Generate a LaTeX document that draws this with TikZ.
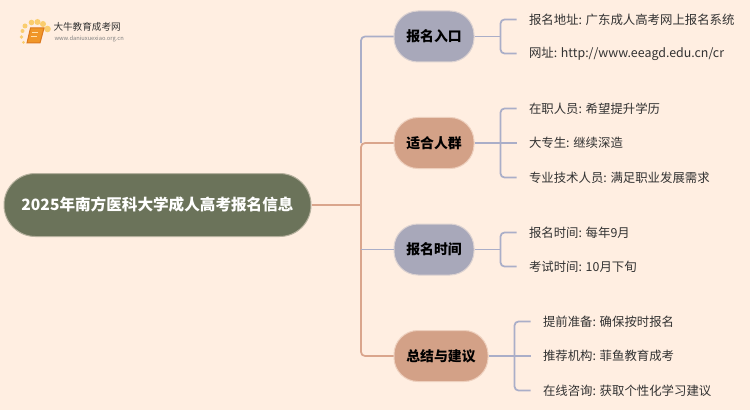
\documentclass[tikz,border=0pt]{standalone}
\usepackage{fontspec}
\setmainfont{Noto Sans CJK SC}
\definecolor{paper}{RGB}{255,238,225}
\definecolor{rootgreen}{RGB}{107,115,90}
\definecolor{slate}{RGB}{168,168,186}
\definecolor{clay}{RGB}{211,161,135}
\definecolor{slateline}{RGB}{170,174,200}
\definecolor{clayline}{RGB}{218,165,140}
\definecolor{inkgray}{RGB}{50,50,50}
\tikzset{every picture/.style={line width=0.75pt}}
\tikzset{
  rootbox/.style={draw=rootgreen!50!paper,fill=rootgreen,rounded corners=23.5pt,minimum width=230.25pt,minimum height=47.25pt,inner sep=0pt,text=white,font=\fontsize{11.7pt}{14pt}\bfseries},
  branchbox/.style={draw=#1!40!paper,fill=#1,rounded corners=18pt,minimum height=38.25pt,inner sep=0pt,text=black,font=\fontsize{10.4pt}{13pt}\bfseries},
  leaf/.style={anchor=west,inner sep=0pt,inner xsep=9pt,minimum height=12pt,text=inkgray,font=\fontsize{9.3pt}{12pt}\selectfont},
  slink/.style={draw=slateline,line width=1.3pt,rounded corners=3pt},
  clink/.style={draw=clayline,line width=1.3pt,rounded corners=3pt},
  sundot/.style={fill={rgb,255:red,250;green,205;blue,110},draw=none}
}
\begin{document}
\begin{tikzpicture}[x=0.75pt,y=0.75pt,yscale=-1,xscale=1]
\useasboundingbox (0,0) rectangle (750,410);
\fill [paper] (0,0) rectangle (750,410);

% Logo
\fill [sundot] (25,26) circle [radius=2.5];
\fill [sundot] (31.5,22.5) circle [radius=2.8];
\fill [sundot] (37.5,22) circle [radius=3];
\fill [sundot] (43,24) circle [radius=3];
\fill [sundot] (47.5,29) circle [radius=3.3];
\fill [sundot] (22.5,31) circle [radius=2];
\fill [sundot] (21.5,37) circle [radius=1.8];
\fill [sundot] (23.5,42.5) circle [radius=1.5];
\draw [fill={rgb,255:red,240;green,150;blue,40},draw={rgb,255:red,220;green,120;blue,30}] (30.5,28) -- (44,28) -- (40,43) -- (27,43) -- cycle;
\draw [draw={rgb,255:red,255;green,225;blue,170},line width=0.6pt] (32,32) -- (38,32) (31,36) -- (37,36);
\draw (53,26.5) node (logotitle) [anchor=west,inner sep=0pt,text=inkgray,font=\fontsize{7.2pt}{9pt}\selectfont] {大牛教育成考网};
\draw (54,39) node (logourl) [anchor=west,inner sep=0pt,text=gray,font=\fontsize{4.3pt}{6pt}\selectfont] {www.daniuxuexiao.org.cn};

% Main nodes
\draw (157.5,205) node (root) [rootbox] {2025年南方医科大学成人高考报名信息};
\draw (434,36.5) node (entry) [branchbox=slate,minimum width=60pt] {报名入口};
\draw (434,143) node (people) [branchbox=clay,minimum width=60pt] {适合人群};
\draw (434,249.5) node (dates) [branchbox=slate,minimum width=60pt] {报名时间};
\draw (441,356) node (advice) [branchbox=clay,minimum width=70.5pt] {总结与建议};

% Leaf text
\draw (516.5,19.5) node (site) [leaf] {报名地址: 广东成人高考网上报名系统};
\draw (516.5,53.5) node (url) [leaf] {网址: http://www.eeagd.edu.cn/cr};
\draw (516.5,108.5) node (staff) [leaf] {在职人员: 希望提升学历};
\draw (516.5,143) node (college) [leaf] {大专生: 继续深造};
\draw (516.5,177.5) node (tech) [leaf] {专业技术人员: 满足职业发展需求};
\draw (516.5,232.5) node (signup) [leaf] {报名时间: 每年9月};
\draw (516.5,266.5) node (exam) [leaf] {考试时间: 10月下旬};
\draw (530.5,321.5) node (prep) [leaf] {提前准备: 确保按时报名};
\draw (530.5,356) node (agency) [leaf] {推荐机构: 菲鱼教育成考};
\draw (530.5,390.5) node (online) [leaf] {在线咨询: 获取个性化学习建议};

% Trunk
\coordinate (trunktop) at (361,143);
\coordinate (trunkmid) at (361,205);
\draw [slink] (trunktop) -- (361,36.5) -- (entry.west);
\draw [clink] (people.west) -- (trunktop) -- (trunkmid);
\draw [clink] (root.east) -- (trunkmid);
\draw [clink] (trunkmid) -- (361,356) -- (advice.west);
\draw [slink,rounded corners=0pt] (361,249.5) -- (dates.west);

% Branch connectors
\draw [slink] (entry.east) -- (500.5,36.5);
\draw [slink] (site.west) -- (500.5,19.5) -- (500.5,53.5) -- (url.west);
\draw [slink] (people.east) -- (college.west);
\draw [slink] (staff.west) -- (500.5,108.5) -- (500.5,177.5) -- (tech.west);
\draw [slink] (dates.east) -- (500.5,249.5);
\draw [slink] (signup.west) -- (500.5,232.5) -- (500.5,266.5) -- (exam.west);
\draw [slink] (advice.east) -- (agency.west);
\draw [slink] (prep.west) -- (514.5,321.5) -- (514.5,390.5) -- (online.west);

\end{tikzpicture}
\end{document}
